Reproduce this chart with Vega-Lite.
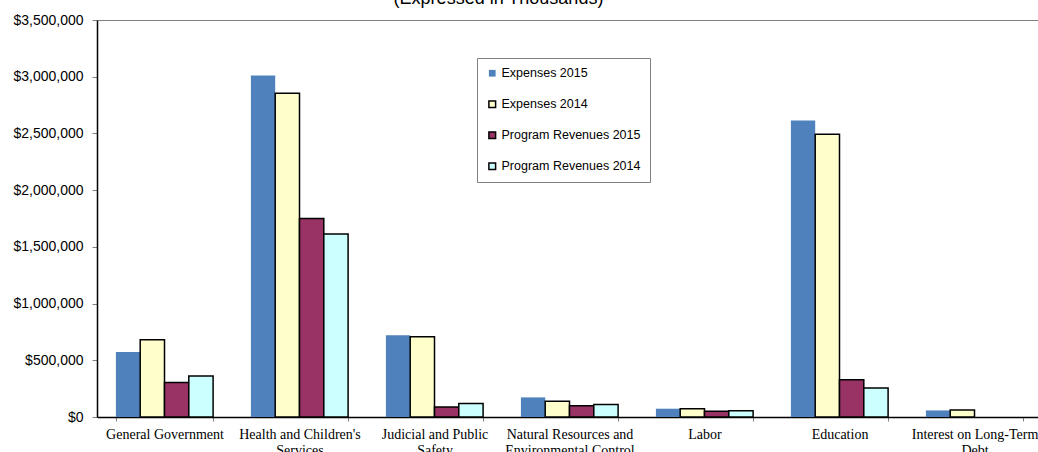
{
  "$schema": "https://vega.github.io/schema/vega-lite/v6.json",
  "autosize": {"type": "none"},
  "padding": {"left": 97, "top": 20, "right": 0, "bottom": 35},
  "width": 945,
  "height": 397,
  "background": "white",
  "title": {
    "text": "(Expressed in Thousands)",
    "font": "Liberation Sans",
    "fontSize": 18,
    "fontWeight": "normal",
    "color": "#000000",
    "anchor": "middle",
    "baseline": "bottom",
    "offset": -13,
    "dx": -71
  },
  "config": {
    "view": {"stroke": null},
    "axis": {"labelColor": "#000000"}
  },
  "data": {
    "values": [
      {"category": "General Government", "series": "Expenses 2015", "value": 573000},
      {"category": "General Government", "series": "Expenses 2014", "value": 682000},
      {"category": "General Government", "series": "Program Revenues 2015", "value": 305000},
      {"category": "General Government", "series": "Program Revenues 2014", "value": 362000},
      {"category": "Health and Children's|Services", "series": "Expenses 2015", "value": 3011000},
      {"category": "Health and Children's|Services", "series": "Expenses 2014", "value": 2855000},
      {"category": "Health and Children's|Services", "series": "Program Revenues 2015", "value": 1749000},
      {"category": "Health and Children's|Services", "series": "Program Revenues 2014", "value": 1614000},
      {"category": "Judicial and Public|Safety", "series": "Expenses 2015", "value": 720000},
      {"category": "Judicial and Public|Safety", "series": "Expenses 2014", "value": 708000},
      {"category": "Judicial and Public|Safety", "series": "Program Revenues 2015", "value": 88000},
      {"category": "Judicial and Public|Safety", "series": "Program Revenues 2014", "value": 118000},
      {"category": "Natural Resources and|Environmental Control", "series": "Expenses 2015", "value": 173000},
      {"category": "Natural Resources and|Environmental Control", "series": "Expenses 2014", "value": 138000},
      {"category": "Natural Resources and|Environmental Control", "series": "Program Revenues 2015", "value": 100000},
      {"category": "Natural Resources and|Environmental Control", "series": "Program Revenues 2014", "value": 111000},
      {"category": "Labor", "series": "Expenses 2015", "value": 73000},
      {"category": "Labor", "series": "Expenses 2014", "value": 72000},
      {"category": "Labor", "series": "Program Revenues 2015", "value": 50000},
      {"category": "Labor", "series": "Program Revenues 2014", "value": 55000},
      {"category": "Education", "series": "Expenses 2015", "value": 2614000},
      {"category": "Education", "series": "Expenses 2014", "value": 2493000},
      {"category": "Education", "series": "Program Revenues 2015", "value": 329000},
      {"category": "Education", "series": "Program Revenues 2014", "value": 256000},
      {"category": "Interest on Long-Term|Debt", "series": "Expenses 2015", "value": 58000},
      {"category": "Interest on Long-Term|Debt", "series": "Expenses 2014", "value": 62000}
    ]
  },
  "mark": {"type": "bar", "strokeWidth": 1.5},
  "encoding": {
    "x": {
      "field": "category",
      "type": "nominal",
      "sort": null,
      "scale": {"paddingInner": 0.28, "paddingOuter": 0.14},
      "axis": {
        "title": null,
        "labelAngle": 0,
        "labelExpr": "split(datum.label, '|')",
        "labelFont": "Liberation Serif",
        "labelFontSize": 14,
        "labelLineHeight": 16,
        "labelBaseline": "top",
        "labelPadding": 6,
        "labelLimit": 0,
        "domainColor": "#000000",
        "domainWidth": 1.5,
        "tickColor": "#808080",
        "tickSize": 4,
        "tickBand": "extent",
        "grid": false
      }
    },
    "xOffset": {
      "field": "series",
      "type": "nominal",
      "sort": ["Expenses 2015", "Expenses 2014", "Program Revenues 2015", "Program Revenues 2014"],
      "scale": {"paddingInner": 0, "paddingOuter": 0}
    },
    "y": {
      "field": "value",
      "type": "quantitative",
      "scale": {"domain": [0, 3500000], "nice": false},
      "axis": {
        "title": null,
        "values": [0, 500000, 1000000, 1500000, 2000000, 2500000, 3000000, 3500000],
        "format": "$,.0f",
        "labelFont": "Liberation Sans",
        "labelFontSize": 14,
        "labelPadding": 9,
        "domainColor": "#000000",
        "domainWidth": 1.5,
        "tickColor": "#808080",
        "tickSize": 5,
        "grid": true,
        "gridColor": "#808080",
        "gridOpacity": {"condition": {"test": "datum.value === 3500000", "value": 1}, "value": 0}
      }
    },
    "color": {
      "field": "series",
      "type": "nominal",
      "scale": {
        "domain": ["Expenses 2015", "Expenses 2014", "Program Revenues 2015", "Program Revenues 2014"],
        "range": ["#4F81BD", "#FFFFCC", "#993366", "#CCFFFF"]
      },
      "legend": {
        "title": null,
        "orient": "none",
        "legendX": 380,
        "legendY": 38,
        "symbolType": "square",
        "symbolSize": 45,
        "symbolStrokeWidth": 1.5,
        "labelFont": "Liberation Sans",
        "labelFontSize": 12.5,
        "labelColor": "#000000",
        "labelOffset": 3,
        "rowPadding": 17,
        "padding": 9,
        "strokeColor": "#808080",
        "fillColor": "white"
      }
    },
    "stroke": {
      "field": "series",
      "type": "nominal",
      "scale": {
        "domain": ["Expenses 2015", "Expenses 2014", "Program Revenues 2015", "Program Revenues 2014"],
        "range": ["transparent", "#000000", "#000000", "#000000"]
      },
      "legend": {
        "title": null,
        "orient": "none",
        "legendX": 380,
        "legendY": 38,
        "symbolType": "square",
        "symbolSize": 45,
        "symbolStrokeWidth": 1.5,
        "labelFont": "Liberation Sans",
        "labelFontSize": 12.5,
        "labelColor": "#000000",
        "labelOffset": 3,
        "rowPadding": 17,
        "padding": 9,
        "strokeColor": "#808080",
        "fillColor": "white"
      }
    }
  }
}
